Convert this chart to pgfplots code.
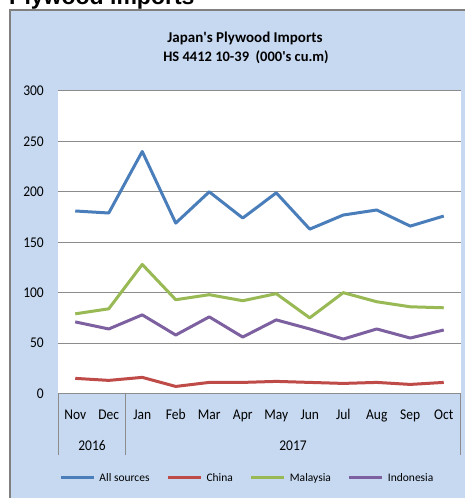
\documentclass[border=0pt]{standalone}
\usepackage{fontspec}
\setmainfont{Carlito}
\newfontfamily\headfont{Liberation Sans}
\usepackage{pgfplots}
\pgfplotsset{compat=1.18}
\definecolor{bgblue}{HTML}{C6D9F1}
\definecolor{sblue}{HTML}{4A7EBB}
\definecolor{sred}{HTML}{BE4B48}
\definecolor{sgreen}{HTML}{98B954}
\definecolor{spurple}{HTML}{7D60A0}
\definecolor{gridgray}{HTML}{8C8C8C}

\begin{document}
\begin{tikzpicture}[x=1pt,y=1pt]
\useasboundingbox (0,0) rectangle (464,498);
\fill[bgblue] (10,-5) rectangle (470,488);
\draw[gray, line width=1.5pt] (10,-5) -- (10,488) -- (470,488);
\node[anchor=base west, inner sep=0pt, font=\headfont\bfseries\fontsize{23}{23}\selectfont] at (9,493) {Plywood imports};
\node[font=\bfseries\fontsize{15}{15}\selectfont] at (245,460) {Japan\textquotesingle s Plywood Imports};
\node[font=\bfseries\fontsize{14.5}{14.5}\selectfont] at (246,441) {HS 4412 10-39~ (000\textquotesingle s cu.m)};

\begin{axis}[
    at={(58.5pt,104.5pt)}, anchor=south west,
    scale only axis, width=402pt, height=302.5pt,
    xmin=-0.5, xmax=11.5, ymin=0, ymax=300,
    ytick={0,50,...,300},
    xtick={0,...,11},
    xticklabels={Nov,Dec,Jan,Feb,Mar,Apr,May,Jun,Jul,Aug,Sep,Oct},
    /pgf/number format/assume math mode=true,
    ymajorgrids,
    grid style={gridgray, line width=1pt},
    axis line style={draw=none},
    major tick length=0pt,
    axis background/.style={fill=white},
    clip=false,
    tick label style={font=\fontsize{13.5}{13.5}\selectfont},
    yticklabel style={anchor=east, inner sep=0pt, xshift=-14.5pt, yscale=1.1},
    xticklabel style={anchor=base, inner sep=0pt, yshift=-26pt, yscale=1.1},
    every axis plot/.append style={line width=3pt, line join=round, mark=none},
    legend columns=4,
    legend style={draw=none, fill=none, at={(0.47,-0.279)}, anchor=center,
        font=\fontsize{11.5}{11.5}\selectfont, inner sep=0pt,
        /tikz/every odd column/.append style={column sep=2pt},
        /tikz/every even column/.append style={column sep=15pt}},
    legend cell align=left,
    legend image code/.code={\draw[#1] (0pt,0pt) -- (33pt,0pt);},
]
\addplot[sblue] coordinates {(0,181) (1,179) (2,240) (3,169) (4,200) (5,174) (6,199) (7,163) (8,177) (9,182) (10,166) (11,176)};
\addplot[sred] coordinates {(0,15) (1,13) (2,16) (3,7) (4,11) (5,11) (6,12) (7,11) (8,10) (9,11) (10,9) (11,11)};
\addplot[sgreen] coordinates {(0,79) (1,84) (2,128) (3,93) (4,98) (5,92) (6,99) (7,75) (8,100) (9,91) (10,86) (11,85)};
\addplot[spurple] coordinates {(0,71) (1,64) (2,78) (3,58) (4,76) (5,56) (6,73) (7,64) (8,54) (9,64) (10,55) (11,63)};
\legend{All sources, China, Malaysia, Indonesia}
\draw[gridgray, line width=1pt] (axis cs:-0.5,0) -- ++(0pt,-61.5pt);
\draw[gridgray, line width=1pt] (axis cs:1.5,0) -- ++(0pt,-61.5pt);
\draw[gridgray, line width=1pt] (axis cs:11.5,0) -- ++(0pt,-61.5pt);
\node[font=\fontsize{13.5}{13.5}\selectfont, anchor=base, inner sep=0pt, yscale=1.1, yshift=-51.5pt] at (axis cs:0.5,0) {2016};
\node[font=\fontsize{13.5}{13.5}\selectfont, anchor=base, inner sep=0pt, yscale=1.1, yshift=-51.5pt] at (axis cs:6.5,0) {2017};
\end{axis}
\end{tikzpicture}
\end{document}
